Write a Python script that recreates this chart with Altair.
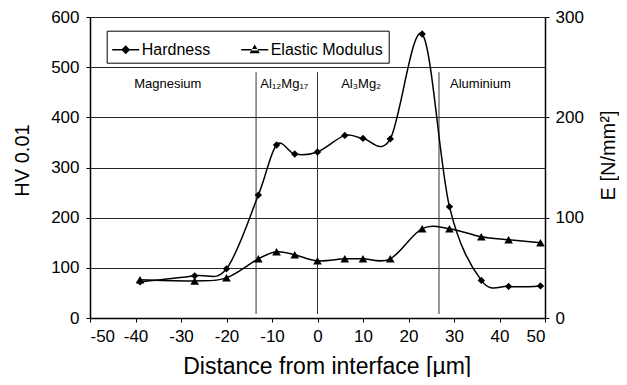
import altair as alt
import pandas as pd

# ---- data ----
distance = [-39, -27, -20, -13, -9, -5, 0, 6, 10, 16, 23, 29, 36, 42, 49]
hardness = [72, 84, 98, 245, 345, 327, 331, 364, 358, 357, 566, 222, 75, 63, 64]
modulus = [38, 37, 40, 59, 66, 63, 57, 59, 59, 59, 89, 89, 81, 78, 75]

boundaries = [-13.5, 0, 26.7]
boundary_low = [8, 8, 8]
boundary_high = [490, 490, 490]

region_names = ["Magnesium", "Al\u2081\u2082Mg\u2081\u2087", "Al\u2083Mg\u2082", "Aluminium"]
region_x = [-32.9, -7.3, 9.6, 35.8]
region_y = [459, 459, 459, 459]

legend_names = ["Hardness", "Elastic Modulus"]
x_ticks = list(range(-50, 51, 10))
hv_ticks = list(range(0, 601, 100))
e_ticks = [0, 100, 200, 300]

FONT = "Liberation Sans"

hard_df = pd.DataFrame({"distance": distance, "value": hardness})
mod_df = pd.DataFrame({"distance": distance, "value": modulus})
bound_df = pd.DataFrame({"distance": boundaries, "lo": boundary_low, "hi": boundary_high})
region_df = pd.DataFrame({"distance": region_x, "ly": region_y, "name": region_names})
legend_df = pd.DataFrame({"series": legend_names})

x_axis = alt.Axis(
    values=x_ticks, title="Distance from interface [\u00b5m]", titleFontSize=23,
    titleFont=FONT, titleFontWeight="normal", titleColor="black",
    titleX=236.7, titleY=55, titleAlign="center", titleBaseline="alphabetic",
    labelFont=FONT, labelFontSize=17, labelColor="black", labelPadding=6,
    labelExpr="'' + datum.value",
    tickSize=4, tickColor="black", domainColor="black", domainWidth=1.5, grid=False,
)
x_scale = alt.Scale(domain=[-50, 50], nice=False, zero=False)

hv_axis = alt.Axis(
    values=hv_ticks, title="HV 0.01", titleFontSize=20, titleFont=FONT,
    titleFontWeight="normal", titleColor="black", titleX=-62, titleY=143,
    titleAngle=270, titleAlign="center", titleBaseline="alphabetic",
    labelFont=FONT, labelFontSize=17, labelColor="black", labelPadding=7,
    tickSize=4, tickColor="black", domainColor="black", domainWidth=1.5,
    grid=True, gridColor="#222222", gridWidth=1, gridOpacity=1,
)
hv_scale = alt.Scale(domain=[0, 600], nice=False, zero=True)

e_axis = alt.Axis(
    orient="right", values=e_ticks, title="E [N/mm\u00b2]", titleFontSize=20,
    titleFont=FONT, titleFontWeight="normal", titleColor="black",
    titleX=69, titleY=138, titleAngle=270, titleAlign="center",
    titleBaseline="alphabetic", labelFont=FONT, labelFontSize=17,
    labelColor="black", labelPadding=6, tickSize=4, tickColor="black",
    domainColor="black", domainWidth=1.5, grid=False,
)
e_scale = alt.Scale(domain=[0, 300], nice=False, zero=True)

X = alt.X("distance:Q", scale=x_scale, axis=x_axis)

rules = alt.Chart(bound_df).mark_rule(color="#333333", strokeWidth=1).encode(
    x=X,
    y=alt.Y("lo:Q", scale=hv_scale, axis=hv_axis),
    y2="hi:Q",
)
labels = alt.Chart(region_df).mark_text(
    font=FONT, fontSize=13, color="black", align="center", baseline="alphabetic"
).encode(
    x=X,
    y=alt.Y("ly:Q", scale=hv_scale, axis=hv_axis),
    text="name:N",
)
hard_line = alt.Chart(hard_df).mark_line(
    interpolate="cardinal", color="black", strokeWidth=1.5
).encode(x=X, y=alt.Y("value:Q", scale=hv_scale, axis=hv_axis))
hard_pts = alt.Chart(hard_df).mark_point(
    shape="diamond", filled=True, color="black", size=55, opacity=1
).encode(x=X, y=alt.Y("value:Q", scale=hv_scale, axis=hv_axis))

# legend glyphs: a line segment (thin filled bar) with the marker on it
path_h = "M-1,-0.055L1,-0.055L1,0.055L-1,0.055ZM0,-0.33L0.33,0L0,0.33L-0.33,0Z"
path_e = "M-1,-0.055L1,-0.055L1,0.055L-1,0.055ZM-0.38,0.26L0.38,0.26L0,-0.38Z"
legend_layer = alt.Chart(legend_df).mark_point(
    filled=True, color="black", clip=True
).encode(
    x=alt.value(-500),
    y=alt.value(-500),
    shape=alt.Shape(
        "series:N",
        scale=alt.Scale(domain=legend_names, range=[path_h, path_e]),
        sort=legend_names,
        legend=alt.Legend(
            title=None, orient="none", legendX=16.7, legendY=13.7,
            direction="horizontal", strokeColor="black", fillColor="white",
            padding=5, labelFont=FONT, labelFontSize=16, labelColor="black",
            labelOffset=2, columnPadding=29, symbolSize=729,
            symbolFillColor="black", symbolStrokeColor="black",
            symbolStrokeWidth=0.5, symbolOpacity=1,
        ),
    ),
)

left = alt.layer(rules, labels, hard_line, hard_pts, legend_layer)

mod_line = alt.Chart(mod_df).mark_line(
    interpolate="cardinal", color="black", strokeWidth=1.5
).encode(x=X, y=alt.Y("value:Q", scale=e_scale, axis=e_axis))
mod_pts = alt.Chart(mod_df).mark_point(
    shape="triangle-up", filled=True, color="black", size=75, opacity=1
).encode(x=X, y=alt.Y("value:Q", scale=e_scale, axis=e_axis))

right = alt.layer(mod_line, mod_pts)

chart = alt.layer(left, right).resolve_scale(y="independent").properties(
    width=455,
    height=301,
    autosize=alt.AutoSizeParams(type="none"),
    padding={"left": 82, "top": 9, "right": 74, "bottom": 59},
    background="white",
).configure_view(stroke=None)

chart.save("out.html", embed_options={"renderer": "svg", "actions": False})
